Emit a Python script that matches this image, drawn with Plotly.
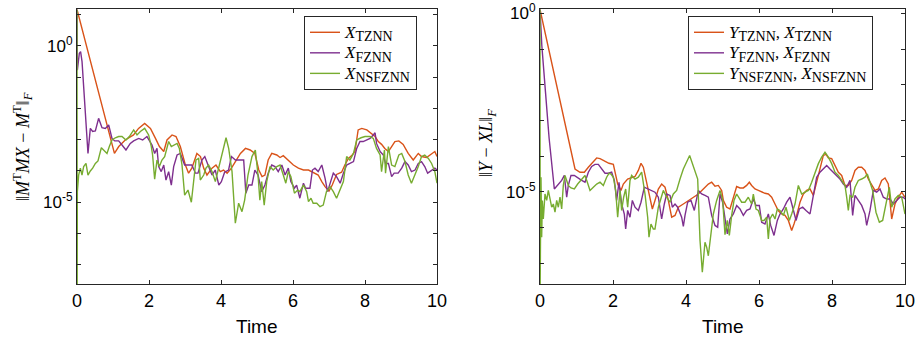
import numpy as np
import plotly.graph_objects as go

# ---- data: (time, log10 of residual norm) ----
left_tznn = [(0, 1.16), (1.04, -3.44), (1.16, -3.22), (1.34, -3.01), (1.57, -2.85), (1.71, -2.64),
             (1.88, -2.48), (2.04, -2.64), (2.18, -2.96), (2.29, -3.22), (2.41, -3.38), (2.50, -3.01),
             (2.64, -2.85), (2.75, -2.90), (2.87, -3.22), (3.01, -3.81), (3.10, -4.07), (3.19, -3.91),
             (3.33, -3.44), (3.43, -3.54), (3.52, -3.91), (3.61, -4.13), (3.75, -3.91), (3.86, -3.81),
             (3.98, -4.02), (4.07, -3.97), (4.17, -4.07), (4.29, -3.91), (4.40, -3.70), (4.54, -3.44),
             (4.68, -3.28), (4.81, -3.33), (4.94, -3.44), (5.05, -3.97), (5.14, -4.18), (5.22, -4.13),
             (5.31, -3.65), (5.41, -3.44), (5.55, -3.49), (5.64, -3.57), (5.73, -3.51), (5.87, -3.65),
             (6.01, -3.81), (6.15, -3.91), (6.29, -3.97), (6.43, -3.97), (6.56, -4.04), (6.70, -4.13),
             (6.80, -4.34), (6.89, -4.50), (7.00, -4.64), (7.09, -4.45), (7.21, -4.11), (7.35, -4.04),
             (7.44, -3.81), (7.54, -3.60), (7.63, -3.51), (7.72, -3.38), (7.81, -2.69), (7.91, -2.64),
             (8.05, -2.69), (8.18, -2.80), (8.28, -2.90), (8.37, -3.06), (8.46, -3.15), (8.55, -3.28),
             (8.65, -3.38), (8.74, -3.22), (8.83, -3.06), (8.94, -3.04), (9.06, -3.15), (9.20, -3.44),
             (9.34, -3.65), (9.48, -3.44), (9.57, -3.54), (9.71, -3.57), (9.85, -3.44), (9.94, -3.38),
             (10.0, -3.54)]

left_fznn = [(0, 1.16), (0.01, -0.78), (0.065, -0.24), (0.10, -0.19), (0.14, -0.51), (0.305, -3.44),
             (0.37, -2.64), (0.435, -2.74), (0.51, -2.72), (0.60, -2.32), (0.694, -2.62), (0.787, -2.64),
             (0.88, -2.53), (0.972, -2.96), (1.046, -3.04), (1.157, -3.04), (1.25, -3.17), (1.36, -3.33),
             (1.48, -3.12), (1.574, -3.04), (1.713, -2.96), (1.824, -3.01), (1.944, -2.90), (2.083, -3.17),
             (2.157, -3.44), (2.222, -3.28), (2.268, -3.86), (2.34, -4.02), (2.41, -3.81), (2.472, -4.29),
             (2.546, -4.02), (2.62, -4.45), (2.685, -3.86), (2.78, -3.49), (2.87, -3.44), (2.99, -3.81),
             (3.10, -3.81), (3.19, -3.81), (3.29, -4.07), (3.36, -4.07), (3.47, -3.65), (3.55, -3.54),
             (3.64, -3.81), (3.75, -4.13), (3.84, -3.97), (3.94, -4.45), (4.01, -4.34), (4.10, -4.04),
             (4.21, -3.97), (4.29, -3.54), (4.40, -3.65), (4.49, -3.65), (4.63, -3.65), (4.69, -4.71),
             (4.77, -4.45), (4.86, -4.45), (4.94, -3.97), (5.03, -4.13), (5.13, -4.66), (5.22, -4.45),
             (5.31, -4.07), (5.41, -3.81), (5.50, -3.86), (5.59, -4.02), (5.69, -3.81), (5.78, -4.13),
             (5.87, -3.91), (5.94, -4.34), (6.04, -4.55), (6.10, -4.45), (6.19, -4.87), (6.29, -4.39),
             (6.35, -4.55), (6.47, -4.55), (6.54, -3.97), (6.61, -3.91), (6.70, -4.02), (6.80, -3.81),
             (6.89, -4.23), (6.96, -4.66), (7.03, -4.39), (7.12, -4.07), (7.21, -4.18), (7.31, -4.39),
             (7.40, -4.07), (7.49, -3.81), (7.58, -3.76), (7.68, -3.70), (7.77, -3.28), (7.86, -3.06),
             (7.95, -3.06), (8.05, -3.01), (8.14, -2.96), (8.23, -2.85), (8.28, -2.78), (8.32, -3.12),
             (8.42, -3.38), (8.51, -3.49), (8.57, -3.76), (8.65, -3.76), (8.74, -4.18), (8.81, -4.07),
             (8.92, -4.07), (9.02, -3.91), (9.11, -3.70), (9.20, -3.81), (9.29, -4.02), (9.39, -3.97),
             (9.48, -3.76), (9.57, -3.70), (9.66, -3.86), (9.74, -4.07), (9.85, -3.97), (9.94, -3.91),
             (10.0, -3.97)]

left_nsfznn = [(0, 1.16), (0.005, -7.61), (0.01, -4.66), (0.046, -4.13), (0.093, -3.91), (0.139, -4.13),
               (0.185, -3.86), (0.25, -3.76), (0.305, -4.13), (0.37, -4.0), (0.435, -3.91), (0.51, -3.76),
               (0.583, -3.68), (0.676, -3.26), (0.74, -3.33), (0.833, -3.44), (0.898, -3.22), (0.972, -3.01),
               (1.065, -2.94), (1.157, -2.90), (1.25, -2.90), (1.36, -3.01), (1.454, -2.90), (1.574, -2.69),
               (1.667, -2.85), (1.76, -2.74), (1.88, -2.64), (1.99, -2.85), (2.065, -3.22), (2.10, -3.49),
               (2.157, -4.26), (2.222, -3.65), (2.287, -3.86), (2.36, -3.65), (2.435, -3.54), (2.546, -3.06),
               (2.62, -3.22), (2.685, -3.17), (2.78, -3.12), (2.843, -3.28), (2.917, -3.81), (2.99, -4.77),
               (3.083, -4.61), (3.176, -5.0), (3.24, -4.23), (3.305, -3.65), (3.38, -3.60), (3.425, -4.29),
               (3.52, -4.13), (3.583, -3.91), (3.657, -3.81), (3.75, -4.02), (3.843, -4.34), (3.935, -3.91),
               (4.028, -3.49), (4.14, -2.94), (4.213, -3.28), (4.306, -4.02), (4.398, -5.67), (4.49, -5.03),
               (4.583, -5.30), (4.657, -4.93), (4.75, -4.13), (4.86, -3.54), (4.954, -3.33), (5.028, -4.13),
               (5.08, -4.93), (5.13, -4.34), (5.20, -5.09), (5.27, -4.34), (5.36, -3.86), (5.45, -3.97),
               (5.55, -3.86), (5.64, -3.81), (5.73, -4.13), (5.80, -4.39), (5.87, -4.02), (5.94, -4.18),
               (6.04, -4.71), (6.13, -4.61), (6.19, -4.66), (6.29, -4.45), (6.38, -4.66), (6.43, -4.98),
               (6.50, -4.87), (6.56, -5.03), (6.66, -5.03), (6.75, -5.14), (6.84, -5.09), (6.93, -4.66),
               (7.03, -4.50), (7.12, -4.66), (7.21, -4.87), (7.31, -4.61), (7.40, -4.34), (7.49, -3.54),
               (7.58, -3.65), (7.68, -3.44), (7.77, -3.01), (7.89, -2.94), (8.0, -2.90), (8.14, -2.90),
               (8.23, -2.96), (8.32, -3.28), (8.42, -3.49), (8.46, -4.02), (8.54, -3.33), (8.57, -4.07),
               (8.65, -3.22), (8.74, -3.81), (8.83, -3.86), (8.94, -3.49), (9.02, -3.44), (9.11, -3.70),
               (9.20, -4.13), (9.29, -4.39), (9.39, -4.13), (9.48, -3.86), (9.57, -3.54), (9.66, -3.49),
               (9.76, -3.60), (9.85, -3.76), (9.94, -4.02), (10.0, -4.39)]

right_tznn = [(0, 0.11), (0.959, -4.36), (1.096, -4.45), (1.215, -4.45), (1.324, -4.31), (1.434, -4.17),
              (1.553, -4.05), (1.644, -4.07), (1.78, -4.14), (1.89, -4.20), (2.009, -4.23), (2.055, -4.45),
              (2.128, -4.78), (2.219, -4.96), (2.283, -4.78), (2.40, -4.64), (2.511, -4.59), (2.603, -4.57),
              (2.694, -4.40), (2.767, -4.20), (2.831, -4.31), (2.922, -4.78), (3.014, -5.24), (3.078, -5.48),
              (3.15, -5.24), (3.242, -4.92), (3.333, -4.78), (3.425, -4.87), (3.516, -5.24), (3.607, -5.71),
              (3.699, -5.66), (3.79, -5.43), (3.927, -5.34), (4.064, -5.24), (4.20, -5.15), (4.338, -5.06),
              (4.475, -4.92), (4.612, -4.78), (4.703, -4.73), (4.795, -4.84), (4.886, -4.82), (4.977, -4.96),
              (5.023, -5.24), (5.114, -5.43), (5.205, -5.48), (5.297, -5.15), (5.388, -4.85), (5.479, -4.89),
              (5.571, -4.89), (5.662, -4.82), (5.735, -4.73), (5.799, -4.82), (5.89, -4.92), (5.982, -4.96),
              (6.073, -5.01), (6.164, -5.04), (6.256, -5.06), (6.347, -5.15), (6.438, -5.34), (6.53, -5.53),
              (6.621, -5.62), (6.712, -5.66), (6.804, -5.80), (6.895, -6.08), (6.959, -5.90), (7.032, -5.66),
              (7.123, -5.29), (7.215, -5.06), (7.306, -4.96), (7.397, -4.92), (7.489, -5.10), (7.58, -4.73),
              (7.671, -4.40), (7.763, -3.98), (7.836, -3.95), (7.90, -4.05), (7.991, -4.07), (8.082, -4.26),
              (8.174, -4.45), (8.265, -4.54), (8.356, -4.82), (8.447, -4.82), (8.539, -4.68), (8.63, -4.40),
              (8.721, -4.31), (8.813, -4.31), (8.904, -4.40), (8.995, -4.64), (9.087, -4.82), (9.178, -4.96),
              (9.269, -4.92), (9.361, -4.68), (9.452, -4.61), (9.543, -4.78), (9.635, -5.76), (9.726, -5.34),
              (9.817, -5.15), (9.909, -5.01), (10.0, -5.15)]

right_fznn = [(0, 0.11), (0.05, -0.9), (0.15, -2.2), (0.25, -3.5), (0.393, -4.92), (0.502, -4.78),
              (0.594, -4.68), (0.667, -4.54), (0.731, -5.15), (0.776, -4.82), (0.849, -4.54), (0.941, -4.54),
              (1.032, -4.61), (1.142, -4.68), (1.233, -4.73), (1.324, -4.45), (1.416, -4.29), (1.507, -4.23),
              (1.598, -4.23), (1.689, -4.36), (1.781, -4.48), (1.872, -4.48), (1.963, -4.45), (2.037, -4.68),
              (2.10, -5.24), (2.164, -4.73), (2.237, -5.34), (2.31, -5.62), (2.347, -6.04), (2.402, -5.52),
              (2.466, -5.71), (2.53, -5.24), (2.603, -5.43), (2.694, -5.52), (2.767, -5.29), (2.858, -4.87),
              (2.968, -4.92), (3.059, -4.96), (3.15, -5.01), (3.242, -5.15), (3.333, -5.76), (3.406, -5.34),
              (3.47, -5.06), (3.562, -5.10), (3.626, -5.43), (3.699, -5.34), (3.772, -5.43), (3.881, -5.71),
              (3.927, -5.97), (3.973, -5.66), (4.046, -5.29), (4.137, -5.24), (4.228, -5.52), (4.338, -4.96),
              (4.429, -5.06), (4.52, -5.10), (4.612, -5.15), (4.703, -5.66), (4.795, -5.94), (4.868, -5.99),
              (4.932, -5.06), (5.005, -5.30), (5.068, -5.80), (5.132, -6.18), (5.205, -5.76), (5.297, -5.62),
              (5.388, -5.38), (5.479, -5.48), (5.571, -5.66), (5.662, -5.52), (5.753, -5.48), (5.845, -5.20),
              (5.918, -5.38), (6.009, -5.38), (6.073, -5.85), (6.164, -5.90), (6.256, -5.62), (6.32, -5.94),
              (6.411, -6.22), (6.502, -5.80), (6.575, -5.62), (6.667, -5.48), (6.758, -5.29), (6.849, -5.15),
              (6.922, -5.43), (7.014, -5.80), (7.105, -5.48), (7.196, -5.43), (7.288, -5.52), (7.397, -5.62),
              (7.489, -5.10), (7.58, -4.59), (7.671, -4.45), (7.763, -4.36), (7.854, -4.26), (7.945, -4.36),
              (8.037, -4.45), (8.128, -4.54), (8.219, -4.64), (8.311, -4.78), (8.402, -4.87), (8.493, -4.68),
              (8.566, -5.66), (8.63, -5.10), (8.721, -5.24), (8.813, -5.38), (8.904, -5.62), (8.95, -5.94),
              (9.041, -5.52), (9.132, -4.96), (9.224, -5.01), (9.315, -4.92), (9.406, -5.15), (9.498, -5.20),
              (9.589, -5.20), (9.68, -5.34), (9.772, -5.24), (9.863, -5.15), (9.954, -5.15), (10.0, -5.20)]

right_nsfznn = [(0, 0.11), (0.005, -7.58), (0.027, -4.59), (0.046, -6.27), (0.064, -5.24), (0.091, -5.76),
                (0.137, -5.06), (0.183, -5.24), (0.228, -4.96), (0.274, -5.24), (0.32, -5.43), (0.365, -5.34),
                (0.411, -5.57), (0.457, -5.24), (0.502, -5.43), (0.548, -5.15), (0.594, -5.48), (0.639, -4.82),
                (0.685, -4.54), (0.731, -4.68), (0.776, -4.82), (0.849, -4.89), (0.941, -4.92), (1.032, -4.78),
                (1.142, -4.64), (1.233, -4.54), (1.306, -4.76), (1.37, -4.96), (1.461, -4.87), (1.553, -4.78),
                (1.644, -4.73), (1.735, -4.82), (1.826, -4.59), (1.89, -4.48), (1.945, -4.50), (2.009, -4.59),
                (2.073, -4.96), (2.128, -5.71), (2.192, -4.96), (2.237, -5.52), (2.292, -5.15), (2.347, -4.92),
                (2.402, -5.43), (2.466, -4.68), (2.511, -4.54), (2.603, -4.64), (2.694, -4.59), (2.785, -4.45),
                (2.877, -5.06), (2.95, -5.71), (2.986, -6.27), (3.041, -5.90), (3.105, -6.04), (3.15, -6.04),
                (3.242, -5.43), (3.315, -5.15), (3.379, -4.96), (3.47, -5.15), (3.562, -5.29), (3.653, -5.06),
                (3.744, -4.96), (3.836, -4.64), (3.927, -4.36), (4.10, -3.98), (4.228, -4.36), (4.32, -4.64),
                (4.384, -6.36), (4.447, -7.25), (4.52, -6.41), (4.566, -6.55), (4.612, -6.79), (4.685, -6.13),
                (4.749, -5.62), (4.84, -5.24), (4.932, -4.96), (5.005, -5.24), (5.068, -6.20), (5.132, -5.80),
                (5.187, -6.22), (5.251, -5.66), (5.315, -5.24), (5.388, -5.06), (5.434, -5.15), (5.525, -5.29),
                (5.616, -5.29), (5.708, -5.15), (5.799, -5.34), (5.845, -5.06), (5.918, -5.48), (5.982, -5.52),
                (6.073, -5.80), (6.137, -5.80), (6.21, -5.71), (6.256, -6.32), (6.301, -5.76), (6.374, -5.62),
                (6.438, -5.76), (6.502, -5.48), (6.575, -5.52), (6.667, -5.66), (6.74, -5.43), (6.831, -5.80),
                (6.895, -5.62), (6.986, -5.34), (7.078, -4.82), (7.169, -5.06), (7.26, -5.01), (7.352, -4.96),
                (7.443, -4.73), (7.534, -4.45), (7.626, -4.21), (7.717, -4.03), (7.808, -3.89), (7.90, -4.03),
                (7.991, -4.21), (8.082, -4.45), (8.174, -4.54), (8.265, -4.68), (8.356, -4.82), (8.402, -5.15),
                (8.447, -5.52), (8.493, -5.10), (8.566, -5.15), (8.63, -4.87), (8.721, -4.68), (8.813, -4.64),
                (8.904, -4.59), (8.968, -4.50), (9.041, -4.73), (9.114, -4.96), (9.205, -5.57), (9.297, -5.85),
                (9.388, -5.80), (9.479, -5.34), (9.571, -4.87), (9.635, -5.43), (9.726, -5.20), (9.817, -5.10),
                (9.909, -5.15), (10.0, -5.62)]

x_ticks = [0, 2, 4, 6, 8, 10]
decades = list(range(-7, 2))
left_range = [-7.61, 1.163]
right_range = [-7.58, 0.112]

COLORS = {"TZNN": "#D95319", "FZNN": "#7E2F8E", "NSFZNN": "#77AC30"}
W, H = 921, 340
AX = "#262626"


def series(pairs):
    t = np.array([p[0] for p in pairs])
    v = np.power(10.0, np.array([p[1] for p in pairs]))
    return t, v


def var(letter, sub):
    return ('<i>' + letter + '</i><sub><span style="font-size:14px">' + sub + '</span></sub>')


def big(s):
    return '<span style="font-size:17px">' + s + '</span>'


fig = go.Figure()

left_names = {k: big(var("X", k)) for k in COLORS}
right_names = {k: big(var("Y", k) + ",&nbsp;" + var("X", k)) for k in COLORS}

for key, data in [("TZNN", left_tznn), ("FZNN", left_fznn), ("NSFZNN", left_nsfznn)]:
    t, v = series(data)
    fig.add_trace(go.Scatter(x=t, y=v, mode="lines", name=left_names[key],
                             line=dict(color=COLORS[key], width=1.4),
                             xaxis="x", yaxis="y", legend="legend"))
for key, data in [("TZNN", right_tznn), ("FZNN", right_fznn), ("NSFZNN", right_nsfznn)]:
    t, v = series(data)
    fig.add_trace(go.Scatter(x=t, y=v, mode="lines", name=right_names[key],
                             line=dict(color=COLORS[key], width=1.4),
                             xaxis="x2", yaxis="y2", legend="legend2"))


def ytext(d):
    if d in (0, -5):
        return "10<sup>%d</sup>" % d
    return ""


xcommon = dict(range=[0, 10], tickvals=x_ticks, ticks="inside", ticklen=4, tickcolor=AX,
               showline=True, linecolor=AX, linewidth=1, mirror="ticks", showgrid=False,
               zeroline=False, automargin=False,
               tickfont=dict(family="Liberation Sans", size=18, color="black"))
ycommon = dict(type="log", tickvals=[10.0 ** d for d in decades], ticktext=[ytext(d) for d in decades],
               ticks="inside", ticklen=4, tickcolor=AX, showline=True, linecolor=AX, linewidth=1,
               mirror="ticks", showgrid=False, zeroline=False, automargin=False,
               tickfont=dict(family="Liberation Sans", size=17, color="black"))

legend_common = dict(yanchor="top", xanchor="left", bgcolor="white", bordercolor=AX, borderwidth=1,
                     font=dict(family="Liberation Serif", size=13.5, color="black"),
                     tracegroupgap=0, itemwidth=30)

ytop, ybot = 9.3, 284.0
ydom = [1 - ybot / H, 1 - ytop / H]
fig.update_layout(
    width=W, height=H, margin=dict(l=0, r=0, t=0, b=0),
    paper_bgcolor="white", plot_bgcolor="white",
    xaxis=dict(domain=[77 / W, 437 / W], anchor="y", **xcommon),
    yaxis=dict(domain=ydom, anchor="x", range=left_range, **ycommon),
    xaxis2=dict(domain=[540 / W, 905 / W], anchor="y2", **xcommon),
    yaxis2=dict(domain=ydom, anchor="x2", range=right_range, **ycommon),
    legend=dict(x=304 / W, y=1 - 16 / H, **legend_common),
    legend2=dict(x=688 / W, y=1 - 16 / H, **legend_common),
    showlegend=True,
)

ann_font = dict(family="Liberation Sans", size=19, color="black")
math_font = dict(family="Liberation Serif", size=18, color="black")
fig.add_annotation(x=257 / W, y=1 - 326 / H, xref="paper", yref="paper", text="Time",
                   showarrow=False, font=ann_font, xanchor="center", yanchor="middle")
fig.add_annotation(x=722.5 / W, y=1 - 326 / H, xref="paper", yref="paper", text="Time",
                   showarrow=False, font=ann_font, xanchor="center", yanchor="middle")
fig.add_annotation(x=22 / W, y=1 - 147 / H, xref="paper", yref="paper", textangle=-90,
                   text="‖<i>M</i><sup>T</sup><i>MX</i> − <i>M</i><sup>T</sup>‖<sub><i>F</i></sub>",
                   showarrow=False, font=math_font, xanchor="center", yanchor="middle")
fig.add_annotation(x=487 / W, y=1 - 143 / H, xref="paper", yref="paper", textangle=-90,
                   text="‖<i>Y</i> − <i>XL</i>‖<sub><i>F</i></sub>",
                   showarrow=False, font=math_font, xanchor="center", yanchor="middle")

fig.write_html("out.html")
